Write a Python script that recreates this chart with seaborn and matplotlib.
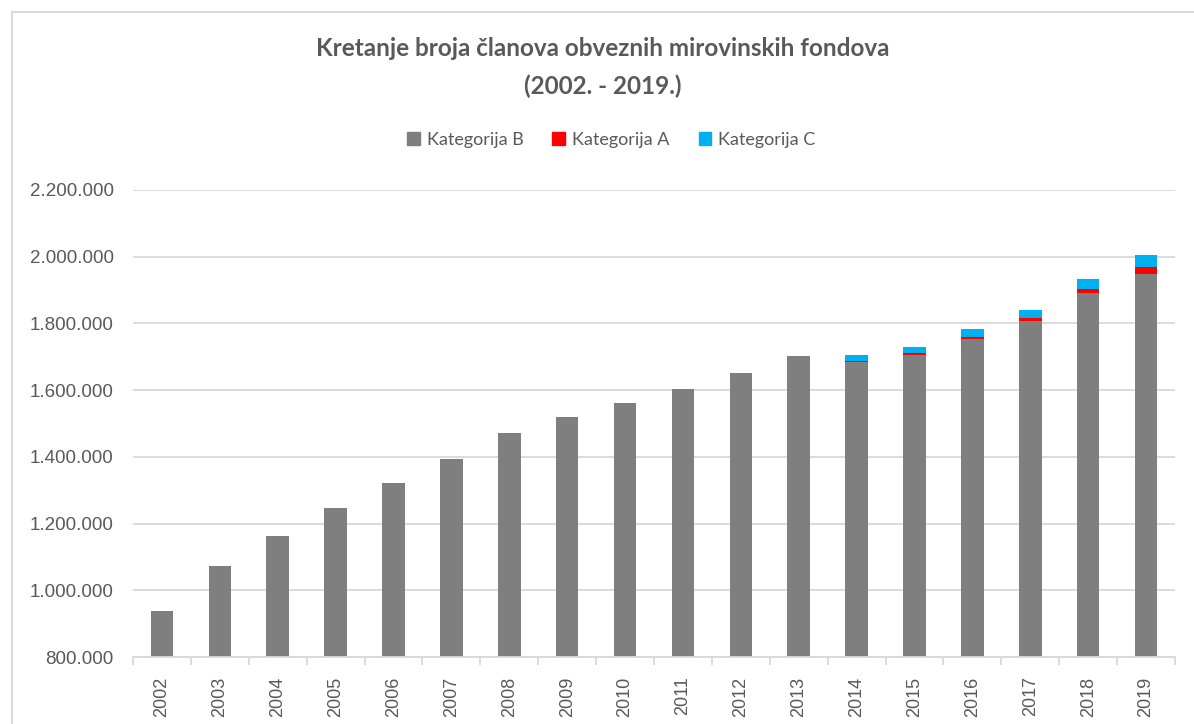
import seaborn as sns
import matplotlib.pyplot as plt
import matplotlib.ticker as mticker
from matplotlib.patches import Rectangle, Patch
import numpy as np

# Data
years = [str(y) for y in range(2002, 2020)]
kat_b = [938000, 1072000, 1162000, 1246000, 1322000, 1393000, 1473000, 1520000, 1560000,
         1602000, 1650000, 1702000, 1683000, 1704000, 1754000, 1808000, 1892000, 1948000]
kat_a = [0] * 12 + [5000, 6000, 6000, 8000, 10000, 22000]
kat_c = [0] * 12 + [16000, 20000, 23000, 24000, 31000, 36000]

gray = "#7F7F7F"
red = "#FF0000"
blue = "#00B0F0"
text_col = "#595959"
grid_col = "#D9D9D9"

sns.set_theme(style="white")
plt.rcParams["font.family"] = ["Lato", "DejaVu Sans"]

fig = plt.figure(figsize=(11.94, 7.24), dpi=100)
ax = fig.add_axes([133 / 1194, 1 - 657 / 724, (1175 - 133) / 1194, (657 - 190) / 724])

b = np.array(kat_b)
a = np.array(kat_a)
c = np.array(kat_c)

# stacked look: draw totals first, then overlay smaller sums
for vals, col in [(b + a + c, blue), (b + a, red), (b, gray)]:
    sns.barplot(x=years, y=vals, color=col, width=0.39, saturation=1, linewidth=0, ax=ax)

ax.set_ylim(800000, 2200000)
ax.set_xlim(-0.5, len(years) - 0.5)
ax.yaxis.set_major_locator(mticker.MultipleLocator(200000))
ax.yaxis.set_major_formatter(mticker.FuncFormatter(lambda v, p: f"{int(v):,}".replace(",", ".")))
ax.set_axisbelow(True)
ax.grid(axis="y", color=grid_col, linewidth=1.3)
ax.set_xlabel("")
ax.set_ylabel("")

for s in ["left", "right", "top"]:
    ax.spines[s].set_visible(False)
ax.spines["bottom"].set_color(grid_col)
ax.spines["bottom"].set_linewidth(1.3)

ax.tick_params(axis="y", length=0, pad=14, labelsize=13.5, labelcolor=text_col)
ax.tick_params(axis="x", which="major", length=0, pad=14, labelsize=13, labelcolor=text_col, rotation=90)
ax.set_xticks(np.arange(-0.5, len(years), 1.0), minor=True)
ax.tick_params(axis="x", which="minor", length=6, width=1.3, color=grid_col, bottom=True)
for lab in ax.get_xticklabels() + ax.get_yticklabels():
    lab.set_family(["Liberation Sans", "DejaVu Sans"])

fig.text(0.505, 1 - 49 / 724, "Kretanje broja članova obveznih mirovinskih fondova",
         ha="center", va="center", fontsize=17.5, fontweight="bold", color=text_col)
fig.text(0.505, 1 - 86 / 724, "(2002. - 2019.)",
         ha="center", va="center", fontsize=17.5, fontweight="bold", color=text_col)

handles = [Patch(color=gray, label="Kategorija B"),
           Patch(color=red, label="Kategorija A"),
           Patch(color=blue, label="Kategorija C")]
fig.legend(handles=handles, loc="center", bbox_to_anchor=(0.512, 1 - 140 / 724), ncol=3,
           frameon=False, fontsize=13, labelcolor=text_col, handlelength=0.7, handleheight=0.7,
           handletextpad=0.4, columnspacing=1.6)

fig.patches.append(Rectangle((12 / 1194, -0.1), 1.2, 1 - 12 / 724 + 0.1, transform=fig.transFigure,
                             fill=False, edgecolor=grid_col, linewidth=1.5))

fig.savefig("out.png", dpi=100)
